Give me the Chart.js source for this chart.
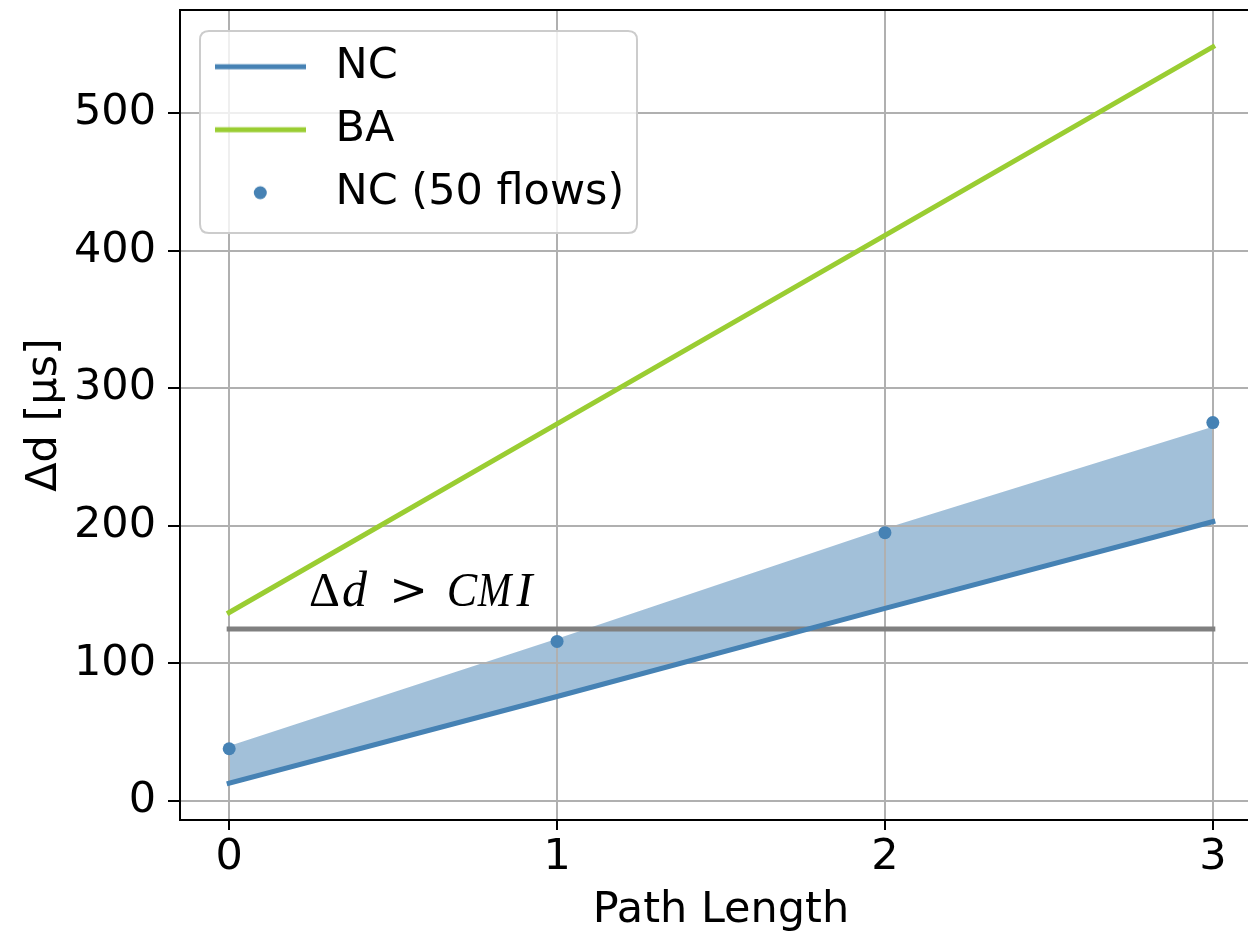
<!DOCTYPE html>
<html><head><meta charset="utf-8">
<script src="https://cdn.jsdelivr.net/npm/chart.js@4.4.1/dist/chart.umd.min.js"></script>
<style>html,body{margin:0;padding:0;background:#fff;overflow:hidden;width:1248px;height:932px}canvas{display:block}</style>
</head><body><canvas id="c" width="1280" height="932"></canvas>
<script>
// ---- data ----
const pathLength = [0, 1, 2, 3];
const ncValues = [13, 76, 140, 203];
const baValues = [137, 274, 411, 548];
const nc50Values = [38, 116, 195, 275];
const ncBandUpper = [40, 118, 198, 272];
const cmiValue = 125;
const xTickValues = [0, 1, 2, 3];
const yTickValues = [0, 100, 200, 300, 400, 500];
const seriesLabels = ['NC', 'BA', 'NC (50 flows)'];
const annotationText = ['Δ', 'd', '>', 'C', 'M', 'I'];

const FONT = "'DejaVu Sans'";
const STEEL = '#4682b4';
const GREEN = '#9acd32';
const toXY = (xs, ys) => xs.map((x, i) => ({x: x, y: ys[i]}));

function marker(kind, color) {
  const c = document.createElement('canvas');
  c.width = 99; c.height = 16;
  const g = c.getContext('2d');
  if (kind === 'line') {
    g.strokeStyle = color; g.lineWidth = 5; g.lineCap = 'butt';
    g.beginPath(); g.moveTo(0, 8); g.lineTo(91, 8); g.stroke();
  } else {
    g.fillStyle = color; g.beginPath(); g.arc(45.3, 8, 6.5, 0, Math.PI * 2); g.fill();
  }
  return c;
}
const legendMarkers = [marker('line', STEEL), marker('line', GREEN), marker('dot', STEEL)];

const layoutPlugin = {
  id: 'layoutTweaks',
  afterLayout(chart) {
    const lg = chart.legend;
    if (!lg) return;
    lg.left = 195; lg.top = 25.2; lg.right = 700; lg.bottom = 820;
    lg.width = 505; lg.height = 795;
    if (!lg._framed) {
      const orig = lg.draw;
      lg.draw = function () {
        const ctx = this.ctx;
        ctx.save();
        const x = 200, y = 31, w = 437, h = 202, r = 9;
        ctx.beginPath();
        ctx.moveTo(x + r, y); ctx.lineTo(x + w - r, y); ctx.quadraticCurveTo(x + w, y, x + w, y + r);
        ctx.lineTo(x + w, y + h - r); ctx.quadraticCurveTo(x + w, y + h, x + w - r, y + h);
        ctx.lineTo(x + r, y + h); ctx.quadraticCurveTo(x, y + h, x, y + h - r);
        ctx.lineTo(x, y + r); ctx.quadraticCurveTo(x, y, x + r, y);
        ctx.closePath();
        ctx.fillStyle = 'rgba(255,255,255,0.8)'; ctx.fill();
        ctx.strokeStyle = '#cccccc'; ctx.lineWidth = 2; ctx.stroke();
        ctx.restore();
        orig.call(this);
      };
      lg._framed = true;
    }
  },
  afterDatasetsDraw(chart) {
    const ctx = chart.ctx, a = chart.chartArea;
    ctx.save();
    // top spine
    ctx.strokeStyle = '#000'; ctx.lineWidth = 2;
    ctx.beginPath(); ctx.moveTo(a.left - 1, a.top); ctx.lineTo(a.right + 1, a.top); ctx.stroke();
    // annotation text "Δd > CMI"
    const x0 = chart.scales.x.getPixelForValue(0.25);
    const y0 = chart.scales.y.getPixelForValue(142);
    const offs = [13.3, 43.3, 97.5, 150.8, 183.3, 213.3];
    const fonts = ["48px 'Liberation Serif'", "italic 50px 'Liberation Serif'", "44px 'DejaVu Serif'",
                   "italic 48px 'Liberation Serif'", "italic 48px 'Liberation Serif'", "italic 48px 'Liberation Serif'"];
    const sx = [1, 1, 1.05, 0.95, 0.84, 1];
    ctx.fillStyle = '#000'; ctx.textAlign = 'center'; ctx.textBaseline = 'alphabetic';
    annotationText.forEach((t, i) => {
      ctx.save();
      ctx.translate(x0 + offs[i], y0);
      ctx.scale(sx[i], 1);
      ctx.font = fonts[i];
      ctx.fillText(t, 0, i === 2 ? -1 : 0);
      ctx.restore();
    });
    ctx.restore();
  }
};

new Chart(document.getElementById('c'), {
  type: 'line',
  data: {
    datasets: [
      { label: 'band', data: toXY(pathLength, ncBandUpper), borderWidth: 0, pointRadius: 0,
        fill: {target: 1}, backgroundColor: 'rgba(70,130,180,0.5)', tension: 0, order: 3 },
      { label: seriesLabels[0], data: toXY(pathLength, ncValues), borderColor: STEEL, borderWidth: 5,
        pointRadius: 0, fill: false, tension: 0, borderCapStyle: 'square', order: 1 },
      { label: seriesLabels[1], data: toXY(pathLength, baValues), borderColor: GREEN, borderWidth: 5,
        pointRadius: 0, fill: false, tension: 0, borderCapStyle: 'square', order: 1 },
      { label: seriesLabels[2], data: toXY(pathLength, nc50Values), showLine: false, pointRadius: 6.5,
        pointHoverRadius: 6.5, pointBackgroundColor: STEEL, pointBorderWidth: 0, borderColor: STEEL, fill: false, order: 0 },
      { label: 'CMI', data: toXY([pathLength[0], pathLength[pathLength.length - 1]], [cmiValue, cmiValue]),
        borderColor: '#808080', borderWidth: 5, pointRadius: 0, fill: false, borderCapStyle: 'square', order: 2 }
    ]
  },
  options: {
    responsive: false, animation: false, devicePixelRatio: 1,
    layout: {padding: {left: 0, top: 10, right: 18, bottom: 0}},
    events: [],
    scales: {
      x: {
        type: 'linear', min: -0.15, max: 3.15,
        afterBuildTicks: s => { s.ticks = xTickValues.map(v => ({value: v})); },
        afterFit: s => { s.height = 112; s.paddingLeft = 0; s.paddingRight = 0; },
        grid: {color: '#b0b0b0', lineWidth: 2, tickColor: '#000', tickWidth: 2, tickLength: 10},
        border: {color: '#000', width: 2},
        ticks: {font: {family: FONT, size: 43}, color: '#000', padding: 2, maxRotation: 0, autoSkip: false,
          callback: v => String(v)},
        title: {display: true, text: 'Path Length', font: {family: FONT, size: 43}, color: '#000',
          padding: {top: 0, bottom: -5}}
      },
      y: {
        type: 'linear', min: -13.75, max: 574.75,
        afterBuildTicks: s => { s.ticks = yTickValues.map(v => ({value: v})); },
        afterFit: s => { s.width = 180; s.paddingTop = 0; s.paddingBottom = 0; },
        grid: {color: '#b0b0b0', lineWidth: 2, tickColor: '#000', tickWidth: 2, tickLength: 12},
        border: {color: '#000', width: 2},
        ticks: {font: {family: FONT, size: 43}, color: '#000', padding: 12, callback: v => String(v)},
        title: {display: true, text: 'Δd [µs]', font: {family: FONT, size: 43}, color: '#000',
          padding: {top: 19, bottom: 0}}
      }
    },
    plugins: {
      filler: {drawTime: 'beforeDraw'},
      tooltip: {enabled: false},
      legend: {
        position: 'chartArea', align: 'start',
        labels: {
          usePointStyle: true, pointStyleWidth: 99, boxHeight: 16, padding: 20,
          font: {family: FONT, size: 43}, color: '#000',
          generateLabels: () => seriesLabels.map((t, i) => ({
            text: t, pointStyle: legendMarkers[i], fillStyle: 'rgba(0,0,0,0)', strokeStyle: 'rgba(0,0,0,0)',
            lineWidth: 0, hidden: false, datasetIndex: i + 1, fontColor: '#000', rotation: 0
          }))
        }
      }
    }
  },
  plugins: [layoutPlugin]
});
</script>
</body></html>
